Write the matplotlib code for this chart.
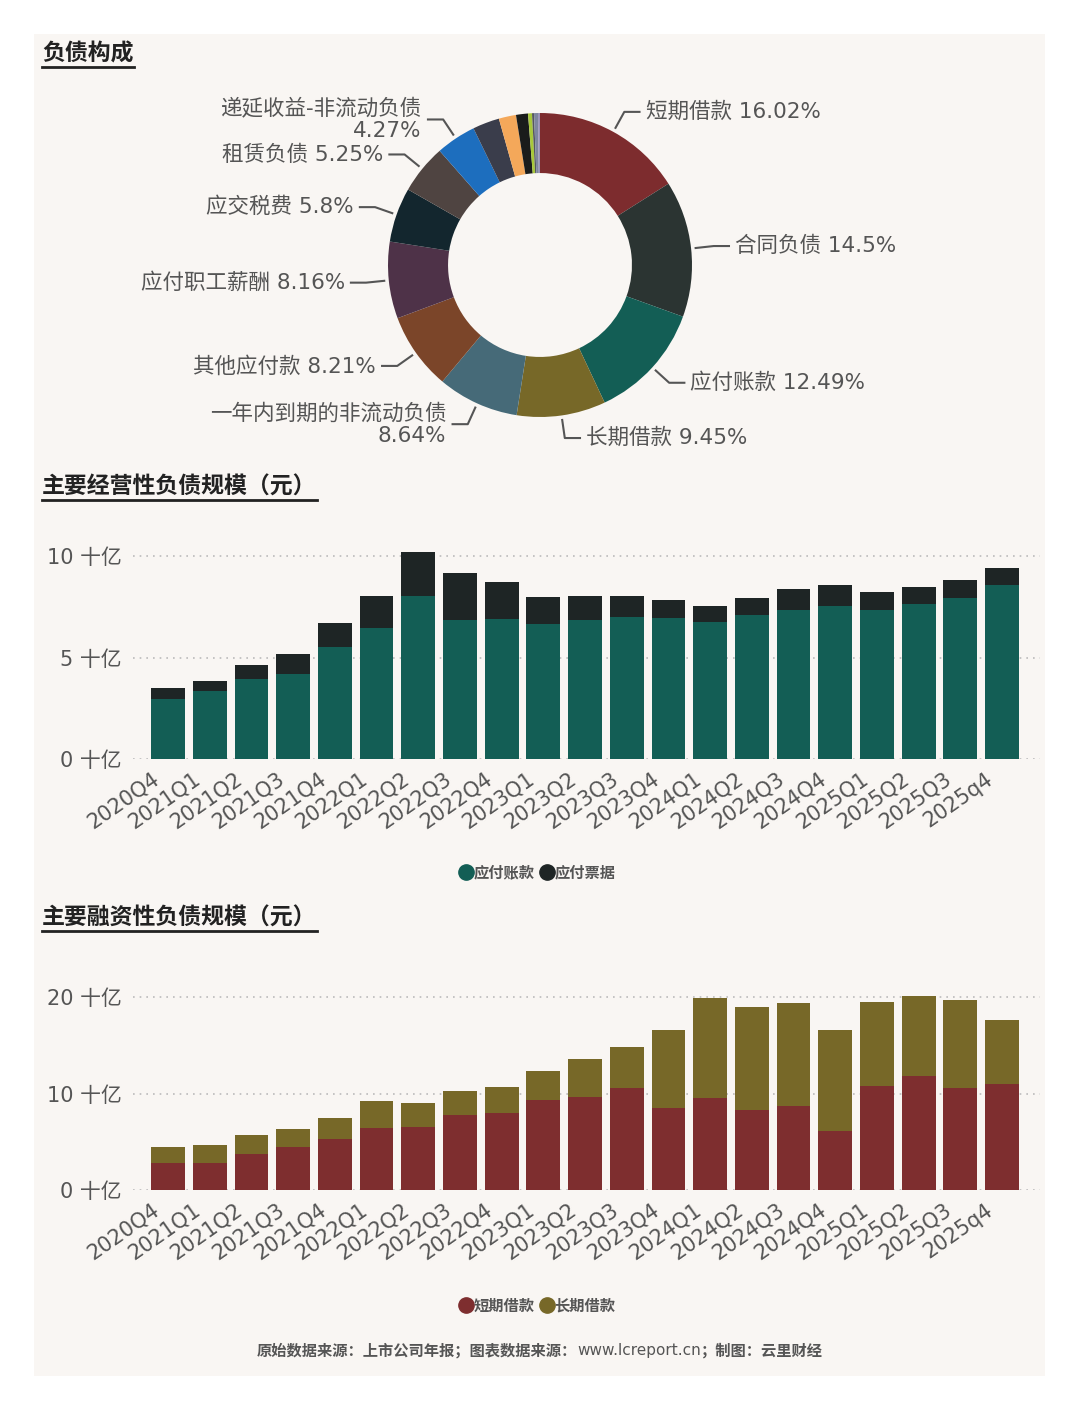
import numpy as np
import matplotlib
matplotlib.use('Agg')
import matplotlib.pyplot as plt
from matplotlib.patches import Rectangle
from matplotlib.lines import Line2D
from matplotlib.transforms import ScaledTranslation

plt.rcParams['font.family'] = ['DejaVu Sans', 'Noto Sans CJK SC']

# ---- 负债构成 (pie) ----
pie_names = ['短期借款', '合同负债', '应付账款', '长期借款', '一年内到期的非流动负债',
             '其他应付款', '应付职工薪酬', '应交税费', '租赁负债', '递延收益-非流动负债',
             '其他流动负债', '预计负债', '递延所得税负债', '长期应付款', '应付利息',
             '应付股利', '其他非流动负债']
pie_pcts = [16.02, 14.5, 12.49, 9.45, 8.64, 8.21, 8.16, 5.8, 5.25, 4.27,
            2.85, 1.83, 1.27, 0.42, 0.21, 0.42, 0.21]
pie_colors = ['#7D2C2E', '#2B3432', '#135E55', '#776828', '#466A78', '#7B4529',
              '#4E3248', '#13262E', '#4F4441', '#1D6EBE', '#3A3D4B', '#F4A85A',
              '#1A1C1B', '#A8C83A', '#55575E', '#7E869E', '#9A93B8']
n_labeled = 10
two_line = ['一年内到期的非流动负债', '递延收益-非流动负债']

# ---- 经营性 / 融资性 负债 (十亿元) ----
quarters = ['2020Q4', '2021Q1', '2021Q2', '2021Q3', '2021Q4', '2022Q1', '2022Q2',
            '2022Q3', '2022Q4', '2023Q1', '2023Q2', '2023Q3', '2023Q4', '2024Q1',
            '2024Q2', '2024Q3', '2024Q4', '2025Q1', '2025Q2', '2025Q3', '2025q4']
payables = [2.98, 3.33, 3.95, 4.21, 5.52, 6.48, 8.02, 6.87, 6.90, 6.67, 6.87,
            7.00, 6.95, 6.74, 7.10, 7.34, 7.57, 7.34, 7.67, 7.93, 8.57]
notes = [0.51, 0.51, 0.71, 0.95, 1.17, 1.57, 2.18, 2.31, 1.84, 1.31, 1.18,
         1.05, 0.90, 0.80, 0.82, 1.05, 1.00, 0.91, 0.82, 0.91, 0.87]
short_loans = [2.84, 2.84, 3.77, 4.50, 5.29, 6.44, 6.57, 7.82, 7.96, 9.31, 9.69,
               10.62, 8.55, 9.55, 8.30, 8.72, 6.12, 10.76, 11.83, 10.55, 11.04]
long_loans = [1.66, 1.80, 1.94, 1.87, 2.15, 2.80, 2.46, 2.42, 2.70, 3.04, 3.87,
              4.22, 8.02, 10.42, 10.73, 10.66, 10.45, 8.76, 8.34, 9.14, 6.61]

W, H = 1080, 1410
TXT = '#555555'
BG = '#F9F6F3'

fig = plt.figure(figsize=(W / 100, H / 100), dpi=100, facecolor='white')
fig.patches.append(Rectangle((34 / W, 1 - 1376 / H), (1045 - 34) / W, (1376 - 34) / H,
                             transform=fig.transFigure, facecolor=BG, edgecolor='none', zorder=-5))


def fx(px):
    return px / W


def fy(py):
    return 1 - py / H


titles = []
for ttl, ypx in [('负债构成', 54), ('主要经营性负债规模（元）', 487), ('主要融资性负债规模（元）', 918)]:
    t = fig.text(fx(42), fy(ypx), ttl, fontsize=16.5, fontweight='bold', color='#222222',
                 ha='left', va='center')
    titles.append(t)

# pie
axp = fig.add_axes([fx(388), fy(417), 304 / W, 304 / H])
wedges, _ = axp.pie(pie_pcts, colors=pie_colors, startangle=90, counterclock=False,
                    radius=1, wedgeprops=dict(width=0.395, edgecolor='none'))
axp.set_xlim(-1, 1)
axp.set_ylim(-1, 1)
axp.axis('off')
for i in range(n_labeled):
    w = wedges[i]
    ang = np.deg2rad((w.theta1 + w.theta2) / 2)
    x0, y0 = np.cos(ang) * 1.03, np.sin(ang) * 1.03
    x1, y1 = np.cos(ang) * 1.15, np.sin(ang) * 1.15
    side = 1 if x1 >= 0 else -1
    x2 = x1 + side * 0.1
    axp.plot([x0, x1, x2], [y0, y1, y1], color=TXT, lw=1.5, clip_on=False)
    sep = '\n' if pie_names[i] in two_line else ' '
    label = f'{pie_names[i]}{sep}{pie_pcts[i]:g}%'
    axp.text(x2 + side * 0.04, y1, label, ha='left' if side > 0 else 'right', va='center',
             multialignment='right' if side < 0 else 'left', linespacing=1.15,
             fontsize=15.5, color=TXT, clip_on=False)


def bar_panel(top_px, zero_px, ymax, ticks, low, high, c_low, c_high):
    ax = fig.add_axes([fx(133), fy(zero_px), (1040 - 133) / W, (zero_px - top_px) / H])
    ax.set_facecolor('none')
    x = np.arange(len(quarters))
    ax.bar(x, low, width=0.81, color=c_low, zorder=3)
    ax.bar(x, high, width=0.81, bottom=low, color=c_high, zorder=3)
    ax.set_xlim(-0.84, 20.91)
    ax.set_ylim(0, ymax)
    ax.set_yticks(ticks)
    ax.set_yticklabels([f'{v:g} 十亿' for v in ticks])
    ax.set_xticks(x)
    ax.set_xticklabels(quarters, rotation=35, ha='right', rotation_mode='anchor')
    ax.tick_params(axis='y', length=0, pad=8, labelsize=15, labelcolor=TXT)
    ax.tick_params(axis='x', length=0, pad=7, labelsize=15, labelcolor=TXT)
    shift = ScaledTranslation(-12 / 72, 0, fig.dpi_scale_trans)
    for lab in ax.get_xticklabels():
        lab.set_transform(lab.get_transform() + shift)
    ax.grid(axis='y', color='#BBBBBB', linestyle=(0, (1, 3)), lw=1.2, zorder=0)
    for s in ax.spines.values():
        s.set_visible(False)
    return ax


bar_panel(536, 759, 11, [0, 5, 10], payables, notes, '#135E55', '#1E2525')
bar_panel(978, 1190, 22, [0, 10, 20], short_loans, long_loans, '#7E2E2F', '#776828')


def legend(ypx, names, colors):
    handles = [Line2D([], [], marker='o', ls='', color=c, markersize=11) for c in colors]
    lg = fig.legend(handles, names, loc='center', bbox_to_anchor=(fx(537), fy(ypx)), ncol=2,
                    frameon=False, handletextpad=0.0, columnspacing=0.3, handlelength=1.0,
                    prop={'weight': 'bold', 'size': 11})
    for t in lg.get_texts():
        t.set_color(TXT)


legend(873, ['应付账款', '应付票据'], ['#135E55', '#1E2525'])
legend(1306, ['短期借款', '长期借款'], ['#7E2E2F', '#776828'])

# footer: bold parts with a regular-weight url
footer_parts = [('原始数据来源：上市公司年报；图表数据来源：', 'bold'),
                ('www.lcreport.cn', 'normal'),
                ('；制图：云里财经', 'bold')]
fig.canvas.draw()
r = fig.canvas.get_renderer()
foot_texts = [fig.text(0, fy(1351), s, ha='left', va='center', fontsize=11,
                       fontweight=wt, color=TXT) for s, wt in footer_parts]
widths = [t.get_window_extent(r).width for t in foot_texts]
xpos = (W - sum(widths)) / 2
for t, wd in zip(foot_texts, widths):
    t.set_x(xpos / W)
    xpos += wd

# underlines for titles
for t in titles:
    bb = t.get_window_extent(r)
    yline = bb.y0 - 1
    fig.add_artist(Line2D([bb.x0 / W, bb.x1 / W], [yline / H, yline / H], color='#222222',
                          lw=2, transform=fig.transFigure))

fig.savefig('out.png', dpi=100, facecolor='white')
